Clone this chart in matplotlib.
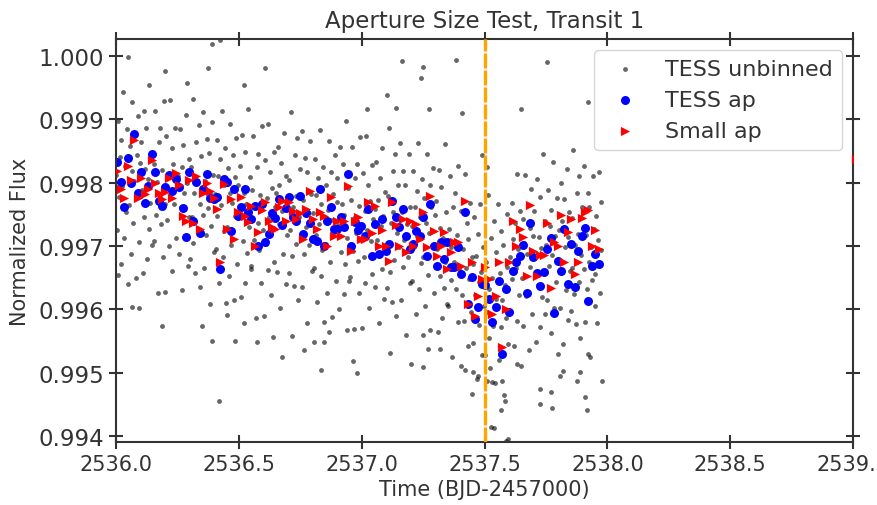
import matplotlib
matplotlib.use('Agg')
import matplotlib.pyplot as plt
import numpy as np

# time axis: thousandths of a day after BJD-2457000 = 2536.0
# flux axis: (normalized flux - 0.99) * 1e5
T0 = 2536.0
TRANSIT_MID = 2537.5

unbinned_t = [
    1, 5, 8, 12, 15, 19, 22, 26, 29, 33, 36, 40, 43, 47, 8, 49,
    53, 56, 60, 63, 67, 70, 74, 77, 81, 84, 88, 91, 95, 98, 65, 94,
    101, 105, 108, 112, 115, 119, 122, 126, 129, 133, 136, 140, 143, 147,
    153, 156, 160, 163, 167, 170, 174, 177, 181, 184, 188, 191, 195, 198, 187, 199,
    201, 205, 208, 212, 215, 219, 222, 226, 229, 233, 236, 240, 243, 247,
    253, 256, 260, 263, 267, 270, 274, 277, 281, 284, 288, 291, 295, 298, 289,
    301, 305, 308, 312, 315, 319, 322, 326, 329, 333, 336, 340, 343, 347, 350,
    353, 356, 360, 363, 367, 370, 374, 377, 381, 384, 388, 391, 395, 398, 374, 390, 391,
    403, 406, 410, 413, 417, 420, 424, 427, 431, 434, 438, 441, 445, 448, 419, 423,
    451, 455, 458, 462, 465, 469, 472, 476, 479, 483, 486, 490, 493, 497, 452, 484,
    503, 506, 510, 513, 517, 520, 524, 527, 531, 534, 538, 541, 545, 548, 521, 521,
    551, 555, 558, 562, 565, 569, 572, 576, 579, 583, 586, 590, 593, 597, 574,
    603, 606, 610, 613, 617, 620, 624, 627, 631, 634, 638, 641, 645, 648, 606, 639,
    651, 655, 658, 662, 665, 669, 672, 676, 679, 683, 686, 690, 693, 697, 676,
    703, 706, 710, 713, 717, 720, 724, 727, 731, 734, 738, 741, 745, 748, 716,
    751, 755, 758, 762, 765, 769, 772, 776, 779, 783, 786, 790, 793, 797, 765,
    801, 805, 808, 812, 815, 819, 822, 826, 829, 833, 836, 840, 843, 847, 806, 834, 847,
    853, 856, 860, 863, 867, 870, 874, 877, 881, 884, 888, 891, 895, 898, 867,
    901, 905, 908, 912, 915, 919, 922, 926, 929, 933, 936, 940, 943, 947, 940,
    953, 956, 960, 963, 967, 970, 974, 977, 981, 984, 988, 991, 995, 998, 965, 981,
    1001, 1005, 1008, 1012, 1015, 1019, 1022, 1026, 1029, 1033, 1036, 1040, 1043, 1047, 1020,
    1053, 1056, 1060, 1063, 1067, 1070, 1074, 1077, 1081, 1084, 1088, 1091, 1095, 1098,
    1101, 1105, 1108, 1112, 1115, 1119, 1122, 1126, 1129, 1133, 1136, 1140, 1143, 1147, 1103, 1115, 1140,
    1153, 1156, 1160, 1163, 1167, 1170, 1174, 1177, 1181, 1184, 1188, 1191, 1195, 1198, 1164,
    1203, 1206, 1210, 1213, 1217, 1220, 1224, 1227, 1231, 1234, 1238, 1241, 1245, 1248, 1200, 1241, 1250, 1250,
    1251, 1255, 1258, 1262, 1265, 1269, 1272, 1276, 1279, 1283, 1286, 1290, 1293, 1297, 1270, 1274,
    1303, 1306, 1310, 1313, 1317, 1320, 1324, 1327, 1331, 1334, 1338, 1341, 1345, 1348, 1319,
    1351, 1355, 1358, 1362, 1365, 1369, 1372, 1376, 1379, 1383, 1386, 1390, 1393, 1397, 1384,
    1403, 1406, 1410, 1413, 1417, 1420, 1424, 1427, 1431, 1434, 1438, 1441, 1445, 1448, 1408, 1420, 1449,
    1451, 1455, 1458, 1462, 1465, 1469, 1472, 1476, 1479, 1483, 1486, 1490, 1493, 1497, 1453, 1473, 1490,
    1503, 1506, 1510, 1513, 1517, 1520, 1524, 1527, 1531, 1534, 1538, 1541, 1545, 1548, 1510, 1510, 1526, 1530, 1539,
    1551, 1555, 1558, 1562, 1565, 1569, 1572, 1576, 1579, 1583, 1586, 1590, 1593, 1597, 1567, 1571, 1583, 1587, 1596,
    1603, 1606, 1610, 1613, 1617, 1620, 1624, 1627, 1631, 1634, 1638, 1641, 1645, 1648, 1632, 1648,
    1651, 1655, 1658, 1662, 1665, 1669, 1672, 1676, 1679, 1683, 1686, 1690, 1693, 1697,
    1703, 1706, 1710, 1713, 1717, 1720, 1724, 1727, 1731, 1734, 1738, 1741, 1745, 1748, 1726, 1726,
    1751, 1755, 1758, 1762, 1765, 1769, 1772, 1776, 1779, 1783, 1786, 1790, 1793, 1797, 1754, 1770, 1775,
    1803, 1806, 1810, 1813, 1817, 1820, 1824, 1827, 1831, 1834, 1838, 1841, 1845, 1848, 1807, 1819,
    1851, 1855, 1858, 1862, 1865, 1869, 1872, 1876, 1879, 1883, 1886, 1890, 1893, 1897, 1876, 1888,
    1903, 1906, 1910, 1913, 1917, 1920, 1924, 1927, 1931, 1934, 1938, 1941, 1945, 1948, 1909, 1917, 1921, 1921,
    1951, 1955, 1958, 1962, 1965, 1969, 1972, 1976, 1978,
]

unbinned_f = [
    812, 725, 898, 778, 841, 672, 867, 795, 943, 712, 826, 753, 885, 640, 654, 998,
    765, 858, 688, 819, 927, 736, 803, 879, 650, 844, 782, 905, 707, 831, 604, 602,
    864, 789, 657, 913, 746, 822, 886, 680, 805, 727, 954, 768, 847, 701,
    708, 829, 913, 749, 801, 626, 864, 777, 886, 734, 820, 682, 929, 766, 574, 976,
    628, 873, 741, 814, 700, 931, 783, 855, 660, 829, 766, 886, 713, 800,
    811, 687, 885, 762, 824, 630, 859, 783, 716, 907, 799, 668, 838, 745, 957,
    679, 825, 746, 932, 705, 783, 658, 864, 800, 724, 891, 635, 767, 842, 574,
    749, 912, 665, 803, 717, 869, 760, 847, 609, 784, 732, 896, 812, 691, 981, 550, 1019,
    782, 695, 868, 748, 811, 642, 837, 765, 913, 682, 796, 723, 855, 610, 455, 1025,
    730, 823, 653, 784, 892, 701, 768, 844, 615, 809, 747, 870, 672, 796, 591, 550,
    826, 751, 619, 875, 708, 784, 848, 642, 767, 689, 916, 730, 809, 663, 954, 578,
    668, 789, 873, 709, 761, 586, 824, 737, 846, 694, 780, 642, 889, 726, 548,
    590, 835, 703, 776, 662, 893, 745, 817, 622, 791, 728, 848, 675, 762, 981, 556,
    783, 659, 857, 734, 796, 602, 831, 755, 688, 879, 771, 640, 810, 717, 525,
    658, 804, 725, 911, 684, 762, 637, 843, 779, 703, 870, 614, 746, 821, 558,
    719, 882, 635, 773, 687, 839, 730, 817, 579, 754, 702, 866, 782, 661, 536,
    752, 665, 838, 718, 781, 612, 807, 735, 883, 652, 766, 693, 825, 580, 548, 504, 548,
    703, 796, 626, 757, 865, 674, 741, 817, 588, 782, 720, 843, 645, 769, 564,
    808, 733, 601, 857, 690, 766, 830, 624, 749, 671, 898, 712, 791, 645, 567,
    651, 772, 856, 692, 744, 569, 807, 720, 829, 677, 763, 625, 872, 709, 518, 499,
    570, 815, 683, 756, 642, 873, 725, 797, 602, 771, 708, 828, 655, 742, 916,
    759, 635, 833, 710, 772, 578, 807, 731, 664, 855, 747, 616, 786, 693,
    633, 779, 700, 886, 659, 737, 612, 818, 754, 678, 845, 589, 721, 796, 938, 531, 918,
    699, 862, 615, 753, 667, 819, 710, 797, 559, 734, 682, 846, 762, 641, 992,
    732, 645, 818, 698, 761, 592, 787, 715, 863, 632, 746, 673, 805, 560, 514, 965, 983, 509,
    683, 776, 606, 737, 845, 654, 721, 797, 568, 762, 700, 823, 625, 749, 537, 916,
    771, 696, 564, 820, 653, 729, 793, 587, 712, 634, 861, 675, 754, 608, 537,
    606, 727, 811, 647, 699, 524, 762, 675, 784, 632, 718, 580, 827, 664, 994,
    510, 755, 623, 696, 582, 813, 665, 737, 542, 711, 648, 768, 595, 682, 910, 504, 466,
    671, 547, 745, 622, 684, 490, 719, 643, 576, 767, 659, 528, 698, 605, 501, 495, 843,
    528, 674, 595, 781, 554, 632, 507, 713, 649, 573, 740, 484, 616, 691, 487, 825, 414, 485, 412,
    604, 767, 520, 658, 572, 724, 615, 702, 464, 639, 587, 751, 667, 546, 441, 487, 455, 392, 395,
    682, 595, 768, 648, 711, 542, 737, 665, 813, 582, 696, 623, 755, 510, 514, 916,
    650, 743, 573, 704, 812, 621, 688, 764, 535, 729, 667, 790, 592, 716,
    756, 681, 549, 805, 638, 714, 778, 572, 697, 619, 846, 660, 739, 593, 474, 450,
    702, 615, 788, 668, 731, 562, 757, 685, 833, 602, 716, 643, 775, 530, 991, 469, 444,
    726, 602, 800, 677, 739, 545, 774, 698, 631, 822, 714, 583, 753, 660, 495, 503,
    598, 744, 665, 851, 624, 702, 577, 783, 719, 643, 810, 554, 686, 761, 487, 501,
    664, 827, 580, 718, 632, 784, 675, 762, 524, 699, 647, 811, 727, 606, 462, 441, 529, 927,
    655, 748, 578, 709, 817, 626, 693, 769, 487,
]

bin_t = [
    5, 19, 33, 47, 61, 75, 89, 103, 117, 131,
    145, 159, 173, 187, 201, 215, 229, 243, 257, 271,
    285, 299, 313, 327, 341, 355, 369, 383, 397, 411,
    425, 439, 453, 467, 481, 495, 509, 523, 537, 551,
    565, 579, 593, 607, 621, 635, 649, 663, 677, 691,
    705, 719, 733, 747, 761, 775, 789, 803, 817, 831,
    845, 859, 873, 887, 901, 915, 929, 943, 957, 971,
    985, 999, 1013, 1027, 1041, 1055, 1069, 1083, 1097, 1111,
    1125, 1139, 1153, 1167, 1181, 1195, 1209, 1223, 1237, 1251,
    1265, 1279, 1293, 1307, 1321, 1335, 1349, 1363, 1377, 1391,
    1405, 1419, 1433, 1447, 1461, 1475, 1489, 1503, 1517, 1531,
    1545, 1559, 1573, 1587, 1601, 1615, 1629, 1643, 1657, 1671,
    1685, 1699, 1713, 1727, 1741, 1755, 1769, 1783, 1797, 1811,
    1825, 1839, 1853, 1867, 1881, 1895, 1909, 1923, 1937, 1951,
    1965, 3010,
]

tess_ap_f = [
    833, 801, 762, 839, 799, 877, 784, 817, 768, 795,
    845, 817, 771, 763, 793, 812, 787, 806, 793, 760,
    714, 817, 740, 801, 720, 790, 814, 776, 774, 777,
    664, 806, 801, 724, 790, 747, 762, 790, 754, 743,
    763, 700, 766, 706, 719, 752, 744, 774, 733, 760,
    777, 745, 740, 779, 719, 752, 737, 711, 708, 790,
    700, 739, 762, 727, 727, 745, 730, 814, 700, 738,
    725, 732, 716, 758, 684, 735, 687, 742, 692, 703,
    771, 746, 730, 758, 716, 695, 703, 724, 716, 746,
    684, 766, 700, 668, 706, 679, 706, 667, 667, 698,
    656, 754, 608, 651, 585, 604, 640, 638, 617, 580,
    604, 645, 529, 632, 596, 661, 675, 684, 702, 626,
    736, 683, 657, 637, 659, 695, 713, 594, 676, 660,
    727, 640, 703, 635, 692, 716, 728, 613, 668, 687,
    672, 740,
]

small_ap_f = [
    818, 790, 776, 826, 804, 867, 775, 808, 782, 790,
    836, 800, 783, 774, 786, 808, 775, 816, 797, 748,
    740, 804, 736, 810, 727, 783, 800, 787, 776, 758,
    675, 798, 727, 774, 711, 754, 777, 747, 738, 763,
    700, 722, 757, 769, 740, 730, 727, 762, 771, 740,
    769, 755, 743, 752, 711, 758, 787, 743, 727, 754,
    747, 700, 777, 716, 739, 716, 740, 795, 692, 739,
    745, 711, 711, 769, 720, 763, 700, 725, 700, 676,
    769, 733, 700, 743, 690, 740, 700, 735, 711, 754,
    698, 779, 724, 684, 700, 722, 664, 690, 706, 706,
    668, 771, 608, 675, 589, 621, 648, 667, 648, 593,
    621, 675, 540, 600, 675, 739, 700, 727, 714, 652,
    765, 692, 652, 686, 686, 736, 634, 706, 700, 749,
    675, 722, 743, 656, 675, 744, 754, 757, 700, 725,
    695, 837,
]


def to_time(t):
    return T0 + np.array(t) / 1000.0


def to_flux(f):
    return 0.99 + np.array(f) / 1e5


def plot_transit():
    dark = '#333333'
    fig = plt.figure(figsize=(8.77, 5.06), dpi=100)
    ax = fig.add_axes([0.1323, 0.1245, 0.8404, 0.7964])

    ax.scatter(to_time(unbinned_t), to_flux(unbinned_f), s=12, c='k', alpha=0.6,
               linewidths=0, label='TESS unbinned', zorder=1)
    ax.scatter(to_time(bin_t), to_flux(tess_ap_f), s=42, c='blue',
               linewidths=0, label='TESS ap', zorder=2)
    ax.scatter(to_time(bin_t), to_flux(small_ap_f), s=44, c='red', marker='>',
               linewidths=0, label='Small ap', zorder=3)
    ax.axvline(TRANSIT_MID, color='orange', lw=2.4, ls=(0, (4.5, 0.6)), zorder=4)

    ax.set_xlim(2536.0, 2539.0)
    ax.set_ylim(0.993905, 1.000268)
    ax.ticklabel_format(useOffset=False)

    ax.tick_params(direction='inout', length=10, width=1.5, top=True, right=True,
                   labelsize=15, color=dark, labelcolor=dark)
    ax.tick_params(axis='y', labelsize=16.5)
    for s in ax.spines.values():
        s.set_color(dark)
        s.set_linewidth(1.5)

    ax.set_title('Aperture Size Test, Transit 1', fontsize=16.5, color=dark, pad=9)
    ax.set_xlabel('Time (BJD-2457000)', fontsize=15, color=dark)
    ax.set_ylabel('Normalized Flux', fontsize=15, color=dark, labelpad=6)

    ax.legend(loc='upper right', fontsize=16, labelcolor=dark)

    fig.savefig('out.png', dpi=100)


if __name__ == '__main__':
    plot_transit()
